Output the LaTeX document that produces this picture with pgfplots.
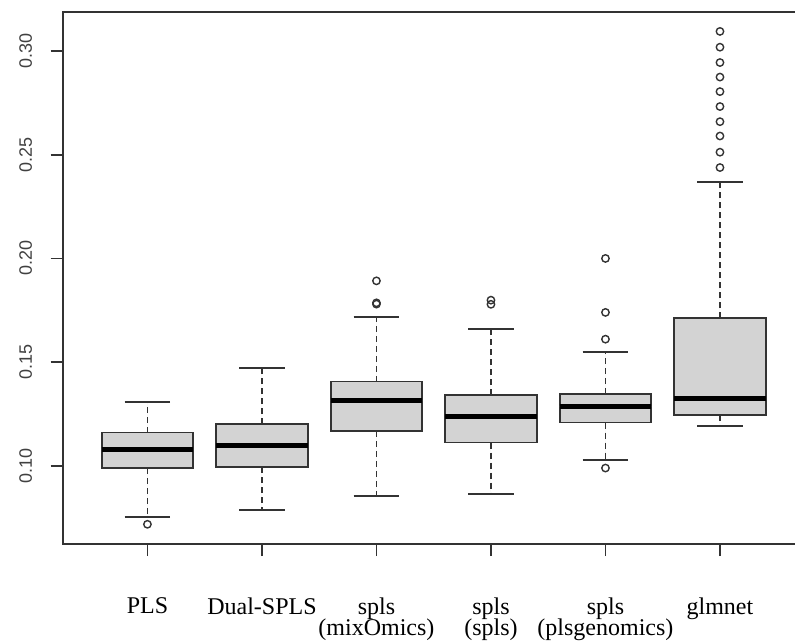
\documentclass[border=0pt]{standalone}
\usepackage{fontspec}
\setmainfont{Liberation Serif}
\setsansfont{Liberation Sans}
\usepackage{pgfplots}
\pgfplotsset{compat=1.18}
\usepgfplotslibrary{statistics}
\definecolor{boxfill}{HTML}{D3D3D3}
\definecolor{axisgray}{HTML}{333333}
\pgfplotsset{
  rbox/.style={
    draw=axisgray, line width=1.8pt, fill=boxfill,
    mark=o, mark size=3.7pt,
    mark options={solid, draw=axisgray, fill=none, line width=1.4pt},
    boxplot/box extend=0.8,
    boxplot/whisker extend=0.4,
    boxplot/every median/.style={line width=5pt, draw=black},
    boxplot/draw/lower whisker/.code={%
      \draw[dash pattern=on 6pt off 4pt]
        (boxplot cs:\pgfplotsboxplotvalue{lower quartile}) --
        (boxplot cs:\pgfplotsboxplotvalue{lower whisker});
      \draw[solid]
        (boxplot whisker cs:\pgfplotsboxplotvalue{lower whisker},0) --
        (boxplot whisker cs:\pgfplotsboxplotvalue{lower whisker},1);
    },
    boxplot/draw/upper whisker/.code={%
      \draw[dash pattern=on 6pt off 4pt]
        (boxplot cs:\pgfplotsboxplotvalue{upper quartile}) --
        (boxplot cs:\pgfplotsboxplotvalue{upper whisker});
      \draw[solid]
        (boxplot whisker cs:\pgfplotsboxplotvalue{upper whisker},0) --
        (boxplot whisker cs:\pgfplotsboxplotvalue{upper whisker},1);
    },
  }
}
\begin{document}
\begin{tikzpicture}
\begin{axis}[
  at={(0pt,0pt)}, anchor=south west,
  scale only axis,
  width=742pt, height=532.3pt,
  xmin=0.26, xmax=6.74,
  ymin=0.0624, ymax=0.3189,
  axis line style={axisgray, line width=1.8pt},
  tick style={axisgray, line width=1.8pt},
  tick align=outside,
  major tick length=12pt,
  xtick pos=bottom, ytick pos=left,
  xtick={1,2,3,4,5,6},
  xticklabels={PLS,Dual-SPLS,{spls\\[-3pt](mixOmics)},{spls\\[-3pt](spls)},{spls\\[-3pt](plsgenomics)},glmnet},
  xticklabel style={align=center, font=\fontsize{24}{24}\selectfont, anchor=north, yshift=-38pt, text=black},
  ytick={0.10,0.15,0.20,0.25,0.30},
  scaled y ticks=false,
  yticklabel style={rotate=90, anchor=south, yshift=15pt,
    font=\sffamily\fontsize{18}{18}\selectfont, text=black!75,
    /pgf/number format/fixed, /pgf/number format/fixed zerofill,
    /pgf/number format/precision=2, /pgf/number format/assume math mode=true},
  boxplot/draw direction=y,
  clip=false,
]
\addplot[rbox, boxplot prepared={draw position=1, lower whisker=0.0753, lower quartile=0.0989, median=0.1081, upper quartile=0.1161, upper whisker=0.1307}]
  table[row sep=\\, y index=0]{data\\ 0.0719\\};
\addplot[rbox, boxplot prepared={draw position=2, lower whisker=0.0786, lower quartile=0.0995, median=0.1098, upper quartile=0.1203, upper whisker=0.1472}]
  coordinates {};
\addplot[rbox, boxplot prepared={draw position=3, lower whisker=0.0857, lower quartile=0.1167, median=0.1317, upper quartile=0.1407, upper whisker=0.1719}]
  table[row sep=\\, y index=0]{data\\ 0.1892\\ 0.1786\\ 0.1780\\};
\addplot[rbox, boxplot prepared={draw position=4, lower whisker=0.0865, lower quartile=0.1113, median=0.1238, upper quartile=0.1343, upper whisker=0.1659}]
  table[row sep=\\, y index=0]{data\\ 0.1799\\ 0.1779\\};
\addplot[rbox, boxplot prepared={draw position=5, lower whisker=0.1027, lower quartile=0.1209, median=0.1288, upper quartile=0.1347, upper whisker=0.1550}]
  table[row sep=\\, y index=0]{data\\ 0.0990\\ 0.1611\\ 0.1740\\ 0.2000\\};
\addplot[rbox, boxplot prepared={draw position=6, lower whisker=0.1191, lower quartile=0.1246, median=0.1323, upper quartile=0.1713, upper whisker=0.2367}]
  table[row sep=\\, y index=0]{data\\ 0.2438\\ 0.2512\\ 0.2590\\ 0.2659\\ 0.2732\\ 0.2804\\ 0.2874\\ 0.2944\\ 0.3018\\ 0.3094\\};
\end{axis}
\pgfresetboundingbox
\path[use as bounding box] (-62.7pt,-96pt) rectangle (732.3pt,544pt);
\end{tikzpicture}
\end{document}
